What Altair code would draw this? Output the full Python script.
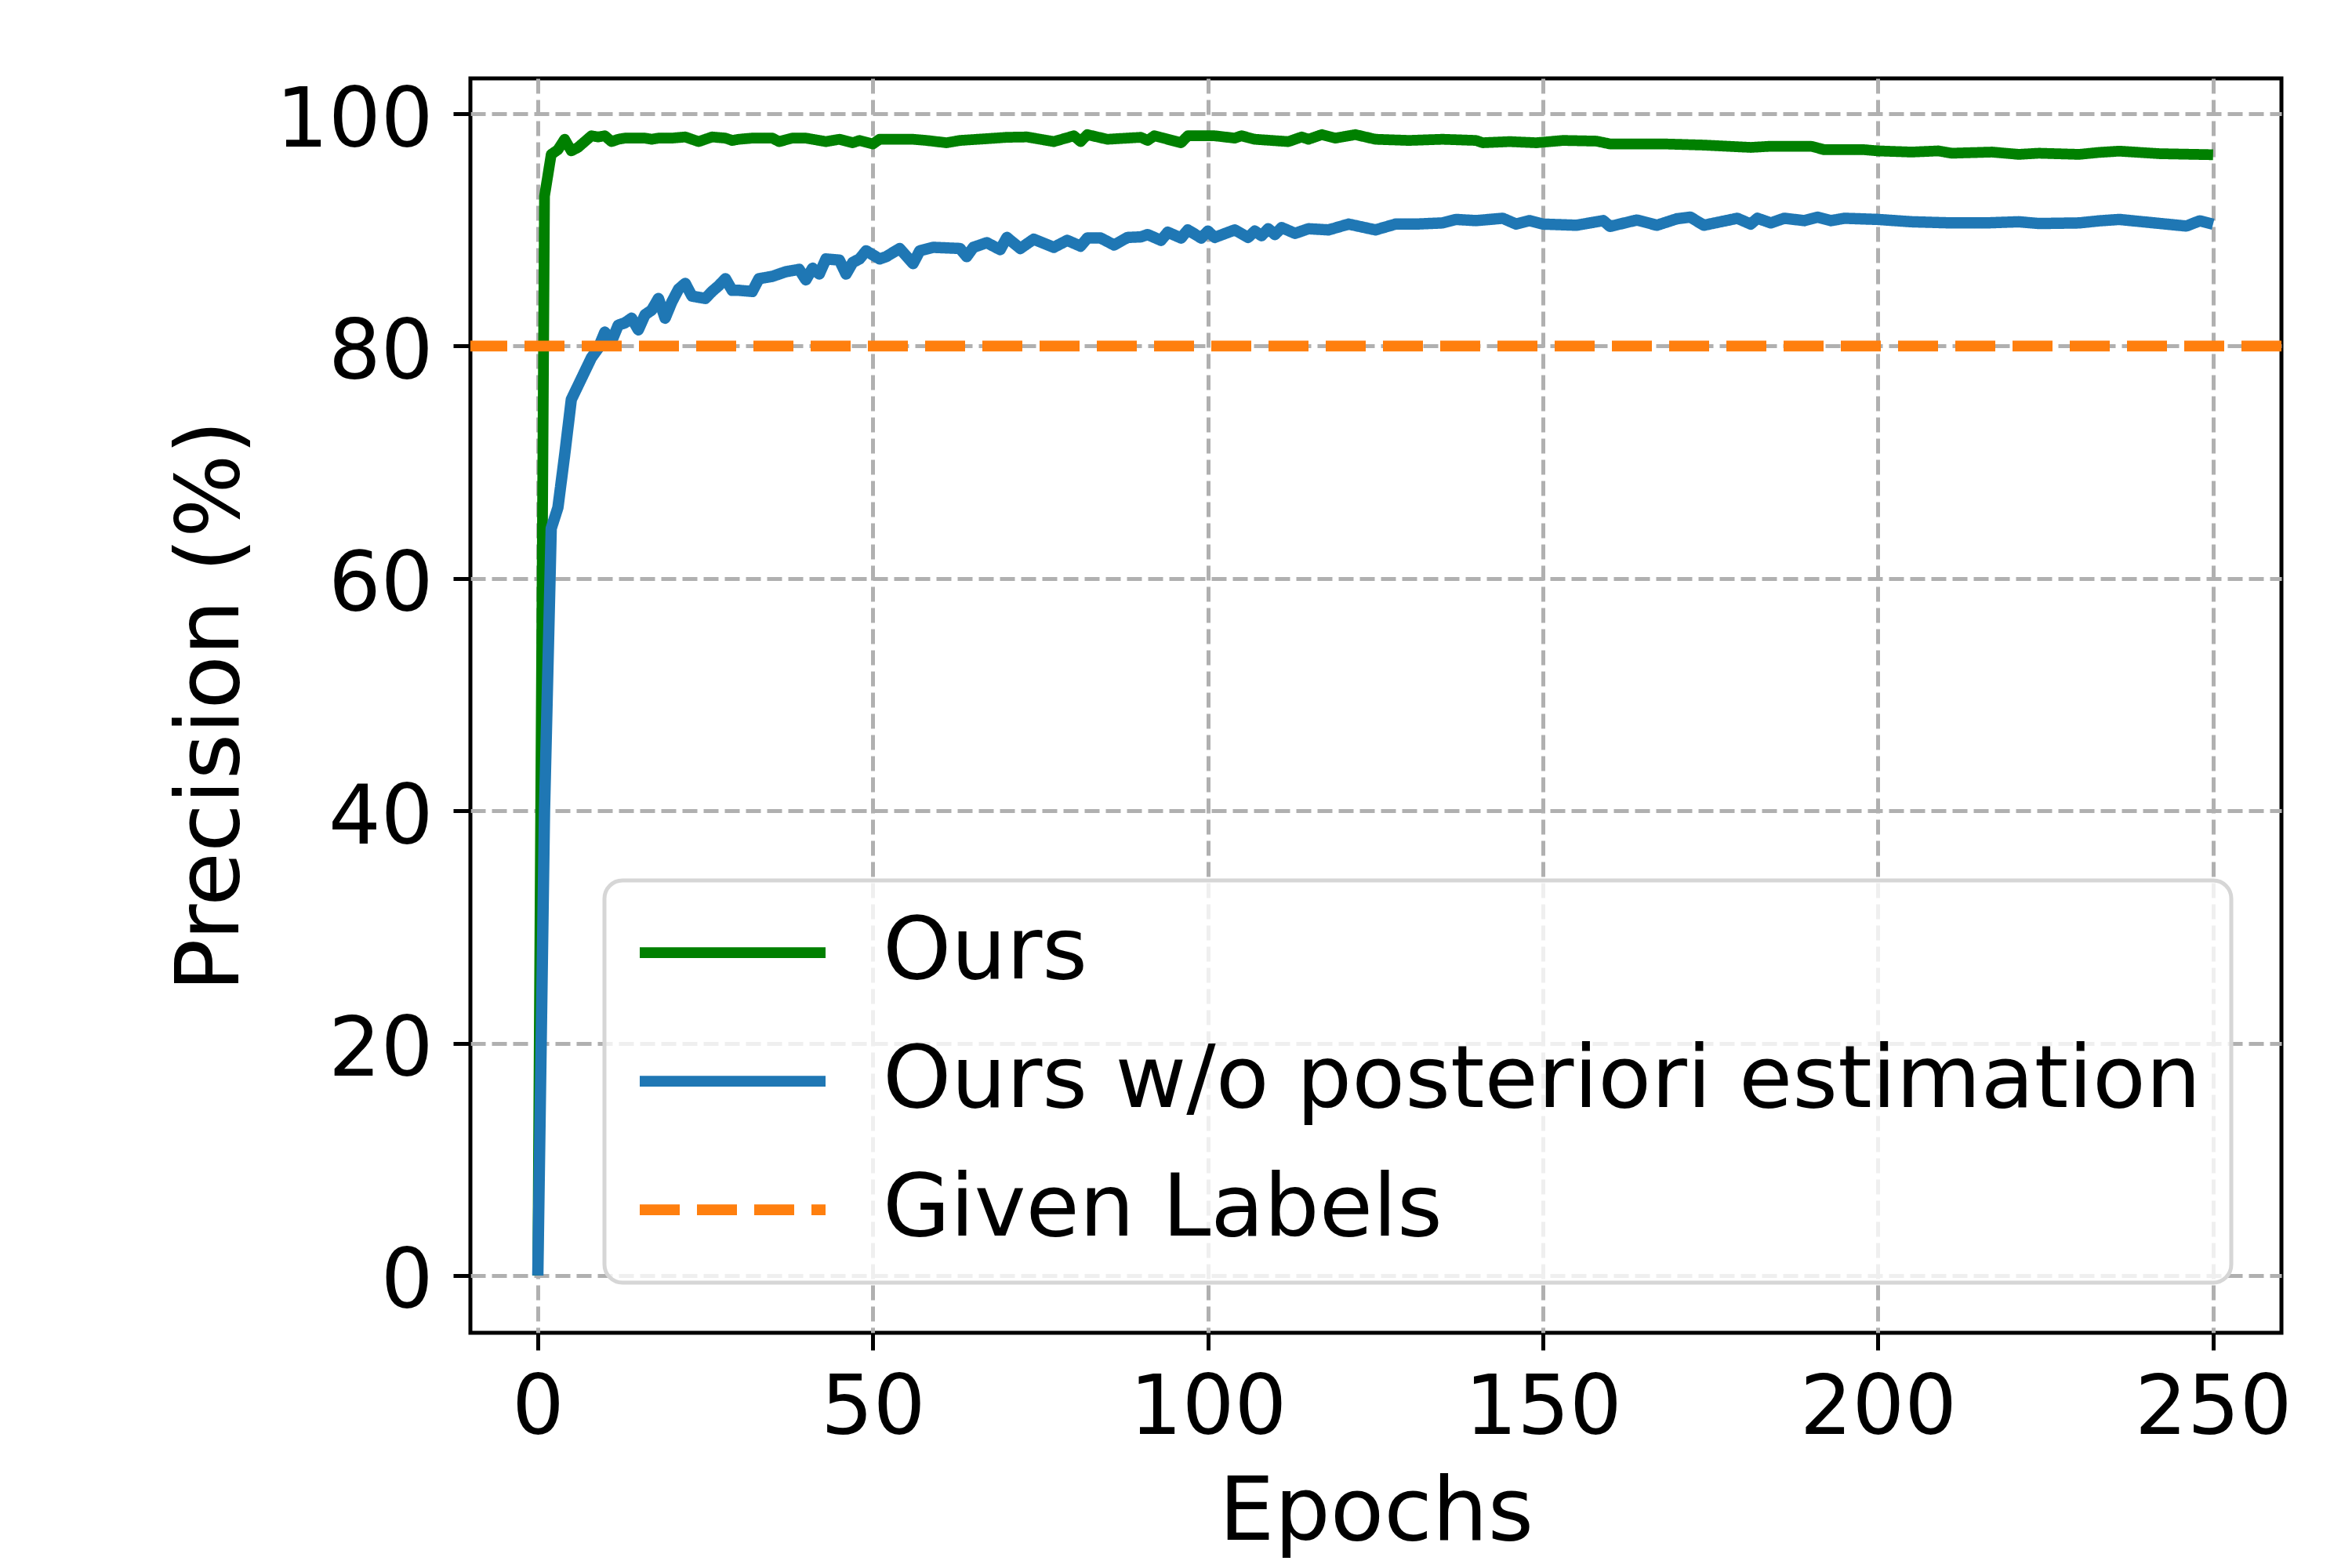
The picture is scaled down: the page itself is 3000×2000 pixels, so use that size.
import altair as alt
import pandas as pd

# ---- data ----
ours_epochs = [0, 1, 2, 3, 4, 5, 6, 7, 8, 9, 10, 11, 12, 13, 14, 15, 16, 17, 18, 19, 20,
               22, 24, 26, 28, 29, 30, 32, 35, 36, 38, 40,
               43, 45, 47, 48, 50, 51, 53, 56, 58, 61, 63,
               67, 70, 73, 77, 80, 81, 82, 85, 90, 91, 92,
               96, 97, 101, 104, 105, 107, 112, 114, 115, 117, 119,
               122, 125, 130, 135, 140, 141, 145, 149, 153, 158, 160,
               168, 174, 181, 184, 190, 192, 198, 200, 205, 209, 211,
               217, 221, 224, 230, 233, 236, 242, 250]
ours_vals = [0, 92.9, 96.5, 96.9, 97.8, 96.8, 97.1, 97.6, 98.1, 98.0, 98.1, 97.6, 97.8, 97.9, 97.9, 97.9, 97.9, 97.8, 97.9, 97.9, 97.9,
             98.0, 97.6, 98.0, 97.9, 97.7, 97.8, 97.9, 97.9, 97.6, 97.9, 97.9,
             97.6, 97.8, 97.5, 97.7, 97.4, 97.8, 97.8, 97.8, 97.7, 97.5, 97.7,
             97.85, 97.97, 98.0, 97.6, 98.1, 97.6, 98.2, 97.8, 97.97, 97.7, 98.1,
             97.5, 98.1, 98.1, 97.9, 98.1, 97.8, 97.6, 98.0, 97.8, 98.2, 97.9,
             98.2, 97.8, 97.7, 97.8, 97.7, 97.5, 97.6, 97.5, 97.7, 97.64, 97.4,
             97.4, 97.3, 97.1, 97.2, 97.2, 96.9, 96.9, 96.8, 96.7, 96.8, 96.6,
             96.7, 96.5, 96.6, 96.5, 96.67, 96.78, 96.56, 96.47]

wo_epochs = [0, 1, 2, 3, 4, 5, 6, 7, 8, 9, 10, 11, 12, 13, 14, 15, 16, 17, 18, 19,
             20, 21, 22, 23, 24, 25, 26, 27, 28, 29, 30,
             32, 33, 35, 37, 39, 40, 41, 42, 43, 45,
             46, 47, 48, 49, 51, 52, 54, 56, 57, 59,
             63, 64, 65, 67, 69, 70, 72, 74, 77, 79,
             81, 82, 84, 86, 88, 90, 91, 93, 94, 96,
             97, 99, 100, 101, 104, 106, 107, 108, 109, 110,
             111, 113, 115, 118, 121, 125, 128, 131, 135, 137,
             140, 144, 146, 148, 150, 155, 159, 160, 164, 167,
             170, 172, 174, 179, 181, 182, 184, 186, 189, 191,
             193, 195, 200, 205, 211, 216, 221, 224, 230, 233,
             236, 246, 248, 250]
wo_vals = [0, 40, 64.3, 66.1, 70.6, 75.4, 76.6, 77.8, 79.0, 79.8, 81.2, 80.4, 81.8, 82.0, 82.4, 81.4, 82.7, 83.1, 84.1, 82.4,
           83.8, 84.9, 85.4, 84.3, 84.2, 84.1, 84.7, 85.2, 85.8, 84.8, 84.8,
           84.7, 85.8, 86.0, 86.4, 86.6, 85.7, 86.7, 86.2, 87.5, 87.4,
           86.2, 87.2, 87.5, 88.2, 87.5, 87.7, 88.4, 87.1, 88.2, 88.5,
           88.4, 87.7, 88.5, 88.9, 88.3, 89.35, 88.4, 89.2, 88.5, 89.1,
           88.6, 89.3, 89.3, 88.7, 89.35, 89.4, 89.6, 89.1, 89.8, 89.3,
           90.0, 89.3, 89.9, 89.35, 90.0, 89.35, 89.9, 89.5, 90.1, 89.6,
           90.2, 89.7, 90.1, 90.0, 90.5, 90.0, 90.5, 90.5, 90.6, 90.9,
           90.8, 91.0, 90.5, 90.8, 90.5, 90.4, 90.8, 90.3, 90.85, 90.4,
           90.96, 91.1, 90.4, 91.0, 90.5, 91.0, 90.6, 91.0, 90.8, 91.1,
           90.8, 91.0, 90.9, 90.7, 90.6, 90.6, 90.7, 90.55, 90.6, 90.78,
           90.9, 90.33, 90.78, 90.49]

given_level = [80]

SERIES = ["Ours", "Ours w/o posteriori estimation", "Given Labels"]
COLORS = ["#008000", "#1f77b4", "#ff7f0e"]
DASHES = [[1, 0], [1, 0], [51, 22]]

x_ticks = [0, 50, 100, 150, 200, 250]
y_ticks = [0, 20, 40, 60, 80, 100]

df_ours = pd.DataFrame({"epoch": ours_epochs, "precision": ours_vals, "series": SERIES[0]})
df_wo = pd.DataFrame({"epoch": wo_epochs, "precision": wo_vals, "series": SERIES[1]})
df_given = pd.DataFrame({"precision": given_level, "series": SERIES[2]})

FONT = "DejaVu Sans"
LW = 13.75

legend = alt.Legend(
    title=None, orient="none", legendX=171, legendY=1023,
    symbolType="stroke", symbolSize=237 * 237, symbolStrokeWidth=LW,
    labelFont=FONT, labelFontSize=111, labelColor="black", labelLimit=4000,
    labelOffset=66, padding=38, rowPadding=53, clipHeight=108,
    strokeColor="#d6d6d6", fillColor="rgba(255,255,255,0.8)", cornerRadius=23,
)

color = alt.Color("series:N", scale=alt.Scale(domain=SERIES, range=COLORS), legend=legend)
dash = alt.StrokeDash("series:N", scale=alt.Scale(domain=SERIES, range=DASHES), legend=legend)

x = alt.X("epoch:Q",
          scale=alt.Scale(domain=[-10.06, 260.2], nice=False, zero=False),
          axis=alt.Axis(values=x_ticks, title="Epochs", labelPadding=23, titlePadding=26))
y = alt.Y("precision:Q",
          scale=alt.Scale(domain=[-4.93, 103.04], nice=False, zero=False),
          axis=alt.Axis(values=y_ticks, title="Precision (%)", labelPadding=26,
                        labelOffset=9, titlePadding=73))

line_ours = alt.Chart(df_ours).mark_line(strokeWidth=LW, strokeJoin="round").encode(
    x=x, y=y, color=color, strokeDash=dash)
line_wo = alt.Chart(df_wo).mark_line(strokeWidth=14.5, strokeJoin="round").encode(
    x=x, y=y, color=color, strokeDash=dash)
rule = alt.Chart(df_given).mark_rule(strokeWidth=LW, strokeCap="butt").encode(
    y=alt.Y("precision:Q"), color=color, strokeDash=dash)

chart = alt.layer(line_ours, line_wo, rule).properties(
    width=2310, height=1600,
    autosize=alt.AutoSizeParams(type="none"),
    padding={"left": 592, "top": 92, "right": 80, "bottom": 292},
    background="white",
).configure_view(
    stroke="black", strokeWidth=5
).configure_axis(
    domain=False, labelFont=FONT, labelFontSize=105, labelColor="black", labelLimit=2000,
    titleFont=FONT, titleFontSize=112, titleColor="black", titleFontWeight="normal",
    tickColor="black", tickWidth=5, tickSize=22,
    grid=True, gridColor="#b0b0b0", gridDash=[19, 8], gridWidth=5,
).configure_legend(
    strokeWidth=5
)

chart.save("out.html", embed_options={"renderer": "svg", "actions": False})
